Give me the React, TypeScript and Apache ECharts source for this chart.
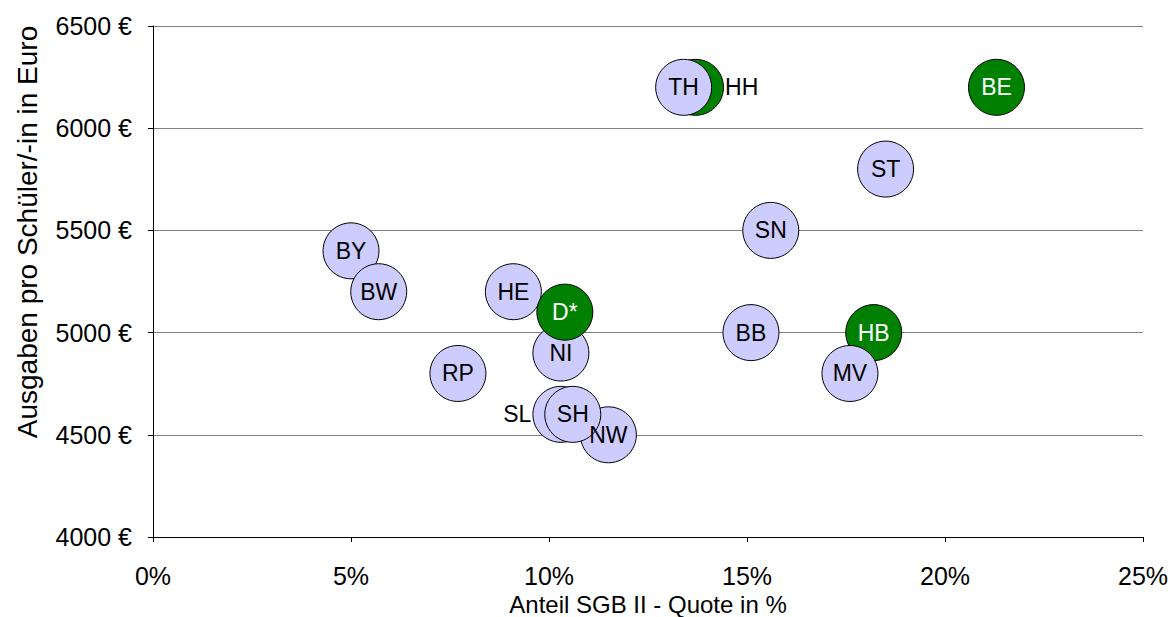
import React, { useEffect, useRef } from "react";
import * as echarts from "echarts";

// Drawing order (later items on top)
const codes = ["HH", "TH", "HB", "MV", "BY", "BW", "RP", "HE", "NI", "D*", "NW", "SL", "SH", "BB", "SN", "ST", "BE"];
const quote = [13.7, 13.4, 18.2, 17.6, 5.0, 5.7, 7.7, 9.1, 10.3, 10.4, 11.5, 10.3, 10.6, 15.1, 15.6, 18.5, 21.3];
const spending = [6200, 6200, 5000, 4800, 5400, 5200, 4800, 5200, 4900, 5100, 4500, 4600, 4600, 5000, 5500, 5800, 6200];
const highlighted = ["HH", "HB", "D*", "BE"];
const labelRight = ["HH"];
const labelLeft = ["SL"];

const xTicks = [0, 5, 10, 15, 20, 25];
const yTicks = [4000, 4500, 5000, 5500, 6000, 6500];
const xTitle = "Anteil SGB II - Quote in %";
const yTitle = "Ausgaben pro Schüler/-in in Euro";

export default function App() {
  const ref = useRef<HTMLDivElement>(null);
  useEffect(() => {
    if (!ref.current) return;
    const chart = echarts.init(ref.current, null, { renderer: "svg" });
    const font = "Liberation Sans, Arial, sans-serif";
    const data = codes.map((c, i) => {
      const green = highlighted.includes(c);
      let position: any = "inside";
      let color = green ? "#ffffff" : "#000000";
      if (labelRight.includes(c)) { position = "right"; color = "#000000"; }
      if (labelLeft.includes(c)) { position = "left"; color = "#000000"; }
      return {
        value: [quote[i], spending[i]],
        name: c,
        itemStyle: { color: green ? "#008000" : "#CCCCFF", borderColor: "#000000", borderWidth: 1, opacity: 1 },
        label: { show: true, formatter: c, position, color, distance: 1 },
      };
    });
    chart.setOption({
      animation: false,
      grid: { left: 153, right: 31, top: 26, bottom: 80, outerBoundsMode: "none", containLabel: false },
      graphic: [
        {
          type: "text",
          x: 27,
          y: 232,
          rotation: Math.PI / 2,
          style: {
            text: yTitle,
            fontFamily: font,
            fontSize: 28,
            fill: "#000",
            align: "center",
            verticalAlign: "middle",
          },
        },
      ],
      xAxis: {
        type: "value",
        min: xTicks[0],
        max: xTicks[xTicks.length - 1],
        interval: 5,
        name: xTitle,
        nameLocation: "middle",
        nameGap: 52,
        nameTextStyle: { fontFamily: font, fontSize: 24, lineHeight: 22, color: "#000" },
        axisLine: { lineStyle: { color: "#000", width: 1 } },
        axisTick: { show: true, length: 5, lineStyle: { color: "#000" } },
        axisLabel: { formatter: (v: number) => `${v}%`, fontFamily: font, fontSize: 25, color: "#000", margin: 26 },
        splitLine: { show: false },
      },
      yAxis: {
        type: "value",
        min: yTicks[0],
        max: yTicks[yTicks.length - 1],
        interval: 500,
        axisLine: { show: true, lineStyle: { color: "#000", width: 1 } },
        axisTick: { show: true, length: 5, lineStyle: { color: "#000" } },
        axisLabel: { formatter: (v: number) => `${v} €`, fontFamily: font, fontSize: 25, color: "#000", margin: 21 },
        splitLine: { show: true, lineStyle: { color: "#808080", width: 1 } },
      },
      series: [
        {
          type: "scatter",
          symbol: "circle",
          symbolSize: 56,
          data,
          label: { fontFamily: font, fontSize: 23 },
          emphasis: { disabled: true },
        },
      ],
    });
    return () => chart.dispose();
  }, []);
  return <div ref={ref} style={{ width: 1174, height: 617, position: "absolute", left: 0, top: 0 }} />;
}
